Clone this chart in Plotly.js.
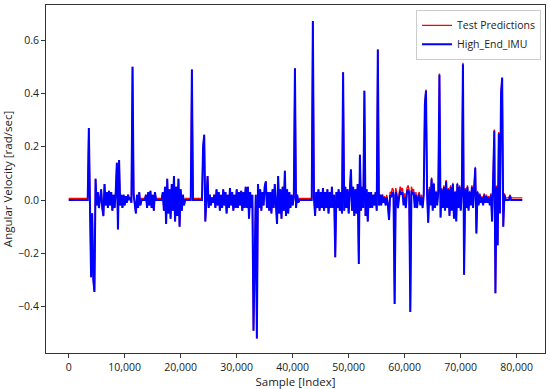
<!DOCTYPE html>
<html>
<head>
<meta charset="utf-8">
<script src="https://cdn.plot.ly/plotly-3.0.1.min.js"></script>
<style>html,body{margin:0;padding:0;background:#fff;}#chart{width:550px;height:389px;}</style>
</head>
<body>
<div id="chart"></div>
<script>
// Sample index (every 200th sample)
const sampleIndex = [
0,200,400,600,800,1000,1200,1400,1600,1800,
2000,2200,2400,2600,2800,3000,3200,3400,3600,3800,
4000,4200,4400,4600,4800,5000,5200,5400,5600,5800,
6000,6200,6400,6600,6800,7000,7200,7400,7600,7800,
8000,8200,8400,8600,8800,9000,9200,9400,9600,9800,
10000,10200,10400,10600,10800,11000,11200,11400,11600,11800,
12000,12200,12400,12600,12800,13000,13200,13400,13600,13800,
14000,14200,14400,14600,14800,15000,15200,15400,15600,15800,
16000,16200,16400,16600,16800,17000,17200,17400,17600,17800,
18000,18200,18400,18600,18800,19000,19200,19400,19600,19800,
20000,20200,20400,20600,20800,21000,21200,21400,21600,21800,
22000,22200,22400,22600,22800,23000,23200,23400,23600,23800,
24000,24200,24400,24600,24800,25000,25200,25400,25600,25800,
26000,26200,26400,26600,26800,27000,27200,27400,27600,27800,
28000,28200,28400,28600,28800,29000,29200,29400,29600,29800,
30000,30200,30400,30600,30800,31000,31200,31400,31600,31800,
32000,32200,32400,32600,32800,33000,33200,33400,33600,33800,
34000,34200,34400,34600,34800,35000,35200,35400,35600,35800,
36000,36200,36400,36600,36800,37000,37200,37400,37600,37800,
38000,38200,38400,38600,38800,39000,39200,39400,39600,39800,
40000,40200,40400,40600,40800,41000,41200,41400,41600,41800,
42000,42200,42400,42600,42800,43000,43200,43400,43600,43800,
44000,44200,44400,44600,44800,45000,45200,45400,45600,45800,
46000,46200,46400,46600,46800,47000,47200,47400,47600,47800,
48000,48200,48400,48600,48800,49000,49200,49400,49600,49800,
50000,50200,50400,50600,50800,51000,51200,51400,51600,51800,
52000,52200,52400,52600,52800,53000,53200,53400,53600,53800,
54000,54200,54400,54600,54800,55000,55200,55400,55600,55800,
56000,56200,56400,56600,56800,57000,57200,57400,57600,57800,
58000,58200,58400,58600,58800,59000,59200,59400,59600,59800,
60000,60200,60400,60600,60800,61000,61200,61400,61600,61800,
62000,62200,62400,62600,62800,63000,63200,63400,63600,63800,
64000,64200,64400,64600,64800,65000,65200,65400,65600,65800,
66000,66200,66400,66600,66800,67000,67200,67400,67600,67800,
68000,68200,68400,68600,68800,69000,69200,69400,69600,69800,
70000,70200,70400,70600,70800,71000,71200,71400,71600,71800,
72000,72200,72400,72600,72800,73000,73200,73400,73600,73800,
74000,74200,74400,74600,74800,75000,75200,75400,75600,75800,
76000,76200,76400,76600,76800,77000,77200,77400,77600,77800,
78000,78200,78400,78600,78800,79000,79200,79400,79600,79800,
80000,80200,80400,80600,80800,81000
];

// High_End_IMU angular velocity [rad/sec]
const highEndIMU = [
0,0,0,0,0,0,0,0,0,0,
0,0,0,0,0,0,0,0,0.27,0.02,
-0.29,-0.05,-0.30,-0.345,0.08,-0.02,0.03,-0.03,0.02,0.04,
-0.03,-0.06,0.06,-0.02,0.03,-0.03,0.035,-0.02,0.03,-0.04,
0.02,-0.03,0.03,0.14,-0.11,0.15,-0.02,0.02,-0.03,0.02,
-0.02,0.015,-0.01,0.02,0,0.01,-0.01,0.50,0.02,-0.02,
-0.05,0.02,-0.03,0.03,-0.02,0,0,0,0,0.02,
-0.03,0.03,-0.02,0.035,-0.03,0.02,-0.04,0.03,0,0,
0,0,0,0,0.03,-0.04,0.05,-0.09,0.08,-0.05,
0.04,-0.07,0.06,-0.04,0.09,-0.08,0.05,-0.06,0.08,-0.10,
0.04,-0.04,0.02,-0.02,0,0,0,0,0,0,
0.49,0,0,0,0,0,0,0,0,0,
0.20,0.245,-0.08,0.02,0.09,-0.03,0.02,-0.02,0.01,-0.01,
0.02,-0.03,0.04,-0.02,0.03,-0.04,0.02,-0.03,0.04,-0.02,
0.03,-0.05,0.02,-0.03,0.045,-0.02,0.03,-0.04,0.02,-0.03,
0.04,-0.03,0.03,-0.02,0.035,-0.04,0.03,-0.03,0.05,-0.03,
0.05,-0.07,0.03,-0.03,0.02,-0.49,-0.25,0.02,-0.52,0.06,
-0.03,0.04,-0.04,0.03,-0.02,0.05,0.07,-0.03,0.03,-0.04,
0.03,-0.05,0.04,-0.03,0.06,-0.04,-0.09,0.09,-0.05,0.04,
-0.07,0.05,-0.04,0.11,-0.06,0.04,-0.05,0.03,-0.03,0.02,
-0.02,0.01,0.495,-0.03,0.02,-0.01,0,0,0,0,
0,0,0,0,0,0,0,0,0.672,0.01,
-0.06,0.03,-0.03,0.04,-0.04,0.03,-0.03,0.045,-0.04,0.03,
-0.03,0.04,-0.05,0.03,-0.03,0.05,-0.03,0.02,-0.215,0.03,
-0.03,0.04,-0.04,0.03,-0.05,0.48,-0.04,0.05,-0.03,0.04,
-0.05,0.06,0.115,-0.04,0.05,-0.06,0.04,-0.05,0.06,-0.24,
0.17,-0.04,0.05,-0.03,0.41,-0.06,0.04,-0.08,0.03,-0.03,
0.03,-0.03,0.02,-0.02,0.03,-0.04,0.565,-0.02,0.02,-0.02,
0.02,-0.01,0.01,-0.02,0.01,-0.02,-0.075,0.02,0.01,0.03,
0.02,-0.39,0.03,0.01,-0.03,0.01,0.035,0.02,0.03,-0.02,
0.01,-0.03,0.03,0.04,0.02,-0.42,0.035,0.02,0.03,-0.03,
0.02,-0.03,0.01,0.02,-0.02,0.01,-0.03,0.02,0.36,0.41,
0.02,-0.085,0.04,-0.02,0.08,-0.04,0.06,-0.03,0.03,-0.02,
0.03,0.47,-0.065,0.04,-0.03,0.05,-0.04,0.07,-0.03,0.04,
-0.06,0.05,-0.04,0.06,-0.07,0.03,-0.08,0.06,-0.03,0.05,
-0.04,0.03,0.51,-0.28,0.04,-0.03,0.05,-0.04,0.03,-0.02,
0.05,-0.03,0.08,0.12,-0.125,0.03,-0.02,0.02,-0.01,0.01,
-0.02,0.02,-0.01,0.015,-0.01,0.01,-0.02,0.02,-0.08,0.10,
0.26,-0.35,0.05,-0.17,0.25,-0.05,0.40,0.46,-0.10,0.02,
0,0,0,0,0.015,0,0,0,0,0,
0,0,0,0,0,0
];

// Test Predictions [rad/sec]
const testPredictions = [
0.006,0.006,0.006,0.006,0.006,0.006,0.006,0.006,0.006,0.006,
0.006,0.006,0.006,0.006,0.006,0.006,0.006,0.006,0.27,0.02,
-0.29,-0.05,-0.30,-0.345,0.08,-0.02,0.03,-0.03,0.02,0.04,
-0.03,-0.06,0.06,-0.02,0.03,-0.03,0.035,-0.02,0.03,-0.04,
0.02,-0.03,0.03,0.14,-0.11,0.15,-0.02,0.02,-0.03,0.02,
-0.02,0.015,-0.01,0.02,0.006,0.01,-0.01,0.50,0.02,-0.02,
-0.05,0.02,-0.03,0.03,-0.02,0.006,0.006,0.006,0.006,0.02,
-0.03,0.03,-0.02,0.035,-0.03,0.02,-0.04,0.03,0.006,0.006,
0.006,0.006,0.006,0.006,0.03,-0.04,0.05,-0.09,0.08,-0.05,
0.04,-0.07,0.06,-0.04,0.09,-0.08,0.05,-0.06,0.08,-0.10,
0.04,-0.04,0.02,-0.02,0.006,0.006,0.006,0.006,0.006,0.006,
0.49,0.006,0.006,0.006,0.006,0.006,0.006,0.006,0.006,0.006,
0.20,0.245,-0.08,0.02,0.09,-0.03,0.02,-0.02,0.01,-0.01,
0.02,-0.03,0.04,-0.02,0.03,-0.04,0.02,-0.03,0.04,-0.02,
0.03,-0.05,0.02,-0.03,0.045,-0.02,0.03,-0.04,0.02,-0.03,
0.04,-0.03,0.03,-0.02,0.035,-0.04,0.03,-0.03,0.05,-0.03,
0.05,-0.07,0.03,-0.03,0.02,-0.49,-0.25,0.02,-0.52,0.06,
-0.03,0.04,-0.04,0.03,-0.02,0.05,0.07,-0.03,0.03,-0.04,
0.03,-0.05,0.04,-0.03,0.06,-0.04,-0.09,0.09,-0.05,0.04,
-0.07,0.05,-0.04,0.11,-0.06,0.04,-0.05,0.03,-0.03,0.02,
-0.02,0.01,0.495,-0.03,0.02,-0.01,0.006,0.006,0.006,0.006,
0.006,0.006,0.006,0.006,0.006,0.006,0.006,0.006,0.672,0.01,
-0.06,0.03,-0.03,0.04,-0.04,0.03,-0.03,0.045,-0.04,0.03,
-0.03,0.04,-0.05,0.03,-0.03,0.05,-0.03,0.02,-0.215,0.03,
-0.03,0.04,-0.04,0.03,-0.05,0.48,-0.04,0.05,-0.03,0.04,
-0.05,0.06,0.115,-0.04,0.05,-0.06,0.04,-0.05,0.06,-0.24,
0.17,-0.04,0.05,-0.03,0.41,-0.06,0.04,-0.08,0.03,-0.03,
0.03,-0.03,0.02,-0.02,0.03,-0.04,0.565,-0.02,0.02,-0.02,
0.02,-0.01,0.015,-0.02,0.02,-0.015,-0.075,0.03,0.025,0.045,
0.035,-0.39,0.045,0.025,-0.02,0.025,0.05,0.035,0.045,-0.01,
0.025,-0.02,0.045,0.055,0.035,-0.42,0.05,0.035,0.04,-0.02,
0.03,-0.02,0.02,0.03,-0.01,0.02,-0.02,0.03,0.365,0.415,
0.03,-0.085,0.05,-0.01,0.085,-0.035,0.065,-0.025,0.035,-0.015,
0.035,0.475,-0.065,0.045,-0.025,0.055,-0.035,0.075,-0.025,0.045,
-0.055,0.055,-0.035,0.065,-0.065,0.035,-0.075,0.065,-0.025,0.055,
-0.035,0.035,0.515,-0.28,0.045,-0.025,0.055,-0.035,0.035,-0.015,
0.055,-0.025,0.085,0.125,-0.125,0.035,-0.015,0.025,-0.005,0.015,
-0.015,0.025,-0.005,0.02,-0.005,0.015,-0.015,0.025,-0.08,0.105,
0.265,-0.35,0.055,-0.17,0.255,-0.045,0.405,0.455,-0.10,0.025,
0.008,0.008,0.008,0.008,0.02,0.008,0.008,0.008,0.008,0.008,
0.008,0.008,0.008,0.008,0.008,0.008
];

const yTickVals = [-0.4, -0.2, 0.0, 0.2, 0.4, 0.6];
const xTickVals = [0, 10000, 20000, 30000, 40000, 50000, 60000, 70000, 80000];

const FONT = '"Open Sans", "DejaVu Sans", sans-serif';

const traces = [
  {
    x: sampleIndex, y: testPredictions, type: 'scatter', mode: 'lines',
    name: 'Test Predictions', line: {color: '#ff0000', width: 1.4}
  },
  {
    x: sampleIndex, y: highEndIMU, type: 'scatter', mode: 'lines',
    name: 'High_End_IMU', line: {color: '#0000ff', width: 2.0}
  }
];

const layout = {
  width: 550, height: 389,
  margin: {l: 46, r: 5, t: 5, b: 36},
  paper_bgcolor: '#ffffff', plot_bgcolor: '#ffffff',
  font: {family: FONT, size: 10.5, color: '#222'},
  showlegend: true,
  legend: {
    x: 0.992, y: 0.986, xanchor: 'right', yanchor: 'top',
    bgcolor: 'rgba(255,255,255,0.85)', bordercolor: '#cccccc', borderwidth: 1,
    font: {family: FONT, size: 10.5, color: '#222'},
    tracegroupgap: 0
  },
  xaxis: {
    range: [-4050, 85050],
    tickvals: xTickVals, tickformat: ',d',
    showgrid: false, zeroline: false,
    showline: true, mirror: true, linecolor: '#333', linewidth: 1,
    ticks: 'outside', ticklen: 4, tickcolor: '#333',
    title: {text: 'Sample [Index]', font: {family: FONT, size: 11.5, color: '#222'}, standoff: 4},
    automargin: false
  },
  yaxis: {
    range: [-0.574, 0.732],
    tickvals: yTickVals, tickformat: '.1f',
    showgrid: false, zeroline: false,
    showline: true, mirror: true, linecolor: '#333', linewidth: 1,
    ticks: 'outside', ticklen: 4, tickcolor: '#333',
    title: {text: 'Angular Velocity [rad/sec]', font: {family: FONT, size: 11.5, color: '#222'}, standoff: 6},
    automargin: false
  }
};

Plotly.newPlot('chart', traces, layout, {staticPlot: true, displayModeBar: false});
</script>
</body>
</html>
